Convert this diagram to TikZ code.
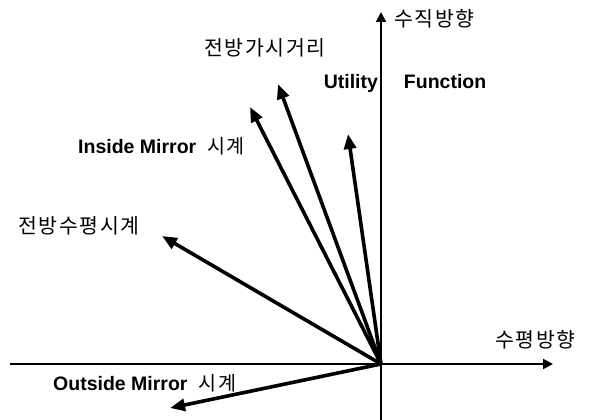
\documentclass[tikz,border=0pt]{standalone}
\usepackage{fontspec}
\usepackage{tikz}
\usetikzlibrary{arrows.meta,positioning}
\setmainfont{Liberation Sans}
\newfontfamily\krfont[LetterSpace=8]{Noto Sans CJK KR}

\tikzset{
  axis/.style={line width=2, -{Triangle[length=10,width=10]}},
  vec/.style={line width=3.6, -{Triangle[length=15,width=12]}},
  lbl/.style={font=\fontsize{19.5}{22}\selectfont\bfseries, inner sep=0, anchor=west},
  krlbl/.style={font=\fontsize{20.5}{22}\selectfont\krfont, inner sep=0, anchor=west},
}

\begin{document}
\begin{tikzpicture}[x=1pt, y=-1pt, line cap=butt, line join=miter]
  \useasboundingbox (0,0) rectangle (608,420);
  % origin and axes
  \coordinate (O) at (381,364);
  \coordinate (xl) at (10,364);
  \coordinate (xr) at (553,364);
  \coordinate (yb) at (381,422);
  \coordinate (yt) at (381,12);
  \draw[axis] (xl) -- (xr);
  \draw[axis] (yb) -- (yt);
  % labels
  \node[krlbl] (vert) at (394,19) {수직방향};
  \node[krlbl] (horz) at (495,340) {수평방향};
  \node[krlbl, anchor=center] (sight) at (265,48) {전방가시거리};
  \node[lbl, anchor=center] (util) at (405,83) {Utility\hspace{26pt}Function};
  \node[lbl] (inmir) at (78,146) {Inside Mirror\hspace{11pt}{\krfont\mdseries 시계}};
  \node[krlbl] (front) at (18,226) {전방수평시계};
  \node[lbl] (outmir) at (53,383) {Outside Mirror\hspace{11pt}{\krfont\mdseries 시계}};
  % vector tips
  \coordinate (tsight) at (278,84);
  \coordinate (tutil) at (348,134);
  \coordinate (tinmir) at (250,107);
  \coordinate (tfront) at (162,236);
  \coordinate (toutmir) at (170,408);
  % vectors
  \foreach \t in {tsight,tutil,tinmir,tfront,toutmir}
    \draw[vec] (O) -- (\t);
\end{tikzpicture}
\end{document}
